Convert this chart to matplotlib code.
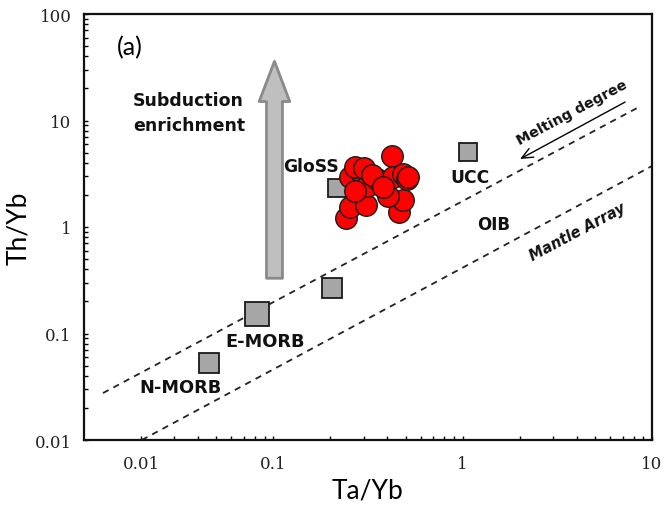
import matplotlib
matplotlib.use("Agg")
import matplotlib.pyplot as plt
import numpy as np

# reference compositions (grey squares)
ref_names = ["N-MORB", "E-MORB", "", "GloSS", "UCC"]
ref_ta_yb = [0.0457, 0.082, 0.204, 0.217, 1.068]
ref_th_yb = [0.0528, 0.152, 0.267, 2.32, 5.06]
ref_size = [14.5, 17.5, 14.5, 12.5, 13.0]

# samples (red circles)
ta_yb = [0.424, 0.242, 0.254, 0.309, 0.461, 0.484, 0.404, 0.254, 0.287,
         0.313, 0.353, 0.429, 0.484, 0.270, 0.270, 0.508, 0.301, 0.515,
         0.330, 0.380]
th_yb = [4.64, 1.22, 1.54, 1.61, 1.38, 1.79, 1.95, 2.95, 3.36,
         2.43, 2.82, 2.95, 3.15, 2.18, 3.66, 2.82, 3.58, 2.95,
         3.10, 2.40]

# mantle array bounds
upper_x = [0.0126, 8.34]
upper_y = [0.0276, 13.1]
lower_x = [0.0202, 10.0]
lower_y = [0.01, 3.74]

xtick_pos = [0.02, 0.1, 1, 10]
xtick_lab = ["0.01", "0.1", "1", "10"]
ytick_pos = [0.01, 0.1, 1, 10, 100]
ytick_lab = ["0.01", "0.1", "1", "10", "100"]

fig = plt.figure(figsize=(6.68, 5.10), dpi=100)
ax = fig.add_axes([84/668, 69/510, 568/668, 426/510])
ax.set_xscale("log")
ax.set_yscale("log")
ax.set_xlim(0.01, 10)
ax.set_ylim(0.01, 100)

dash = dict(color="#222222", lw=1.3, linestyle=(0, (3.5, 3)))
ax.plot(upper_x, upper_y, **dash, zorder=2)
ax.plot(lower_x, lower_y, **dash, zorder=2)

for x, y, s in zip(ref_ta_yb, ref_th_yb, ref_size):
    ax.plot(x, y, "s", ms=s, mfc="#A6A6A6", mec="#1a1a1a", mew=1.3, zorder=3)

ax.plot(ta_yb, th_yb, "o", ms=15.5, mfc="#FF0000", mec="#1a1a1a", mew=1.0,
        linestyle="none", zorder=4)

# subduction enrichment arrow
ax.annotate("", xy=(0.1014, 36), xytext=(0.1014, 0.33),
            arrowprops=dict(arrowstyle="simple,head_length=2.9,head_width=2.2,tail_width=1.15",
                            fc="#BFBFBF", ec="#8A8A8A", lw=2.0,
                            shrinkA=0, shrinkB=0), zorder=2)

# melting degree arrow
ax.annotate("", xy=(2.01, 4.35), xytext=(7.21, 14.9),
            arrowprops=dict(arrowstyle="->,head_length=0.8,head_width=0.35",
                            color="black", lw=1.0, shrinkA=0, shrinkB=0))

bold = dict(family="DejaVu Sans", fontweight="bold", color="#111111")
ax.text(0.0175, 49, "(a)", fontsize=18, family="Lato", ha="center", va="center")
ax.text(0.01815, 12.0, "Subduction\nenrichment", fontsize=12.5, ha="left",
        va="center", linespacing=1.5, **bold)
ax.text(0.158, 3.74, "GloSS", fontsize=12.3, ha="center", va="center", **bold)
ax.text(1.094, 2.94, "UCC", fontsize=12.3, ha="center", va="center", **bold)
ax.text(1.449, 1.07, "OIB", fontsize=12, ha="center", va="center", **bold)
ax.text(0.0904, 0.0851, "E-MORB", fontsize=12.8, ha="center", va="center", **bold)
ax.text(0.0325, 0.0315, "N-MORB", fontsize=12.8, ha="center", va="center", **bold)
ax.text(3.79, 12.0, "Melting degree", fontsize=10.3, rotation=28,
        rotation_mode="anchor", ha="center", va="center", **bold)
ax.text(4.02, 0.917, "Mantle Array", fontsize=10.5, rotation=28, style="italic",
        rotation_mode="anchor", ha="center", va="center", **bold)

ax.set_xlabel("Ta/Yb", fontsize=19, family="Lato", labelpad=4)
ax.set_ylabel("Th/Yb", fontsize=19, family="Lato", labelpad=2)

ax.set_xticks(xtick_pos)
ax.set_xticklabels(xtick_lab)
ax.set_yticks(ytick_pos)
ax.set_yticklabels(ytick_lab)
ax.xaxis.set_minor_locator(matplotlib.ticker.LogLocator(base=10, subs=np.arange(2, 10)))
ax.xaxis.set_minor_formatter(matplotlib.ticker.NullFormatter())
ax.yaxis.set_minor_locator(matplotlib.ticker.LogLocator(base=10, subs=np.arange(2, 10)))
ax.yaxis.set_minor_formatter(matplotlib.ticker.NullFormatter())
ax.tick_params(which="both", direction="in", length=3, width=1.0,
               top=False, right=False)
ax.tick_params(axis="x", which="major", pad=11)
ax.tick_params(axis="y", which="major", pad=9)
for lab in ax.get_xticklabels() + ax.get_yticklabels():
    lab.set_family("DejaVu Serif")
    lab.set_fontsize(12)
    lab.set_color("#222222")
for sp in ax.spines.values():
    sp.set_linewidth(1.6)
    sp.set_color("#111111")

fig.savefig("out.png", dpi=100)
